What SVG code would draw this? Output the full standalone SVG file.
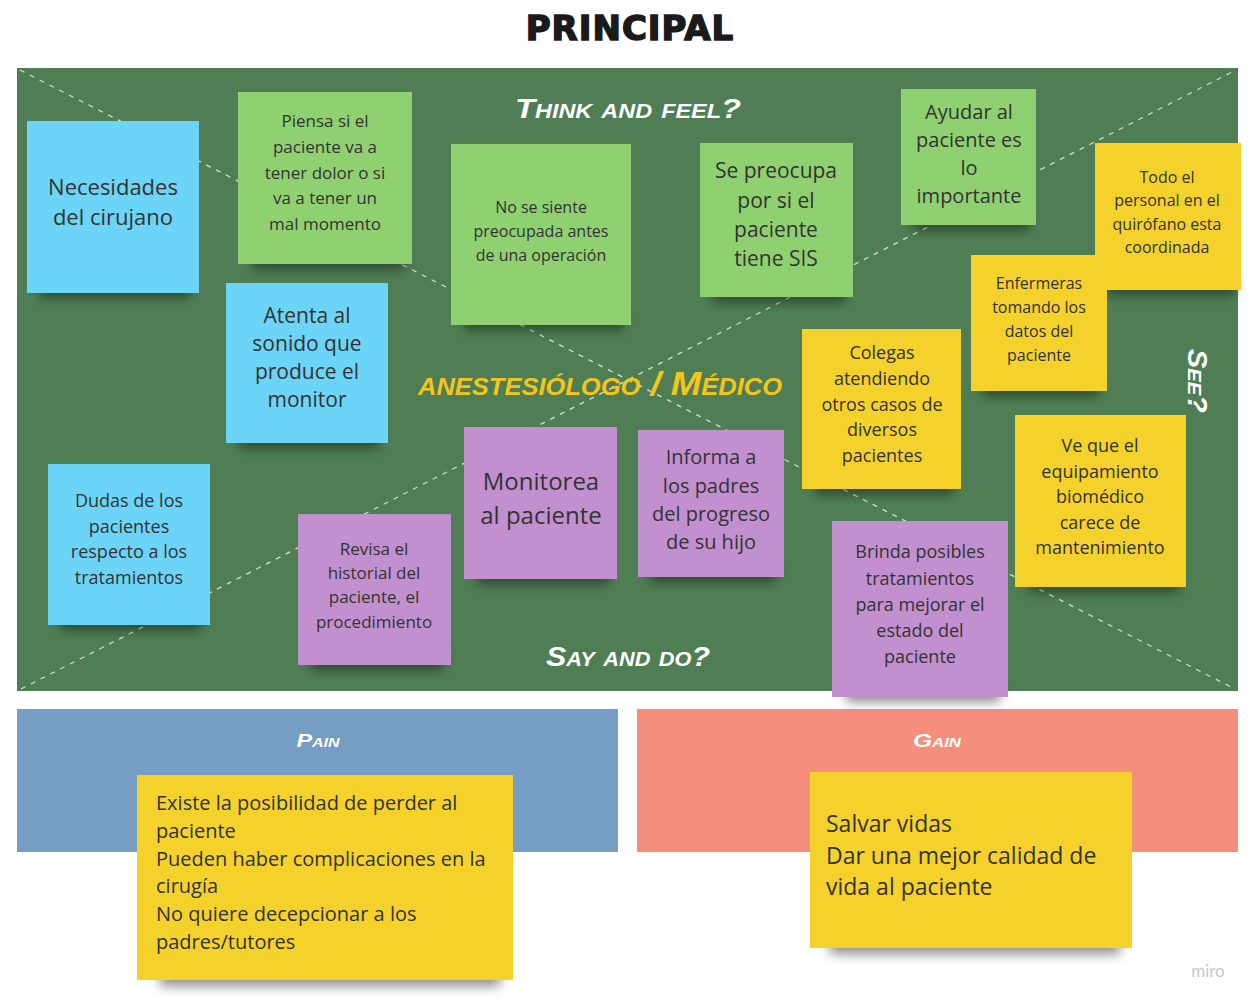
<svg xmlns="http://www.w3.org/2000/svg" width="1257" height="1006" viewBox="0 0 1257 1006">
  <style>
    .note text { font-family: "Open Sans", "Noto Sans", sans-serif; fill: #333; text-anchor: middle; }
    .left text { text-anchor: start; }
    .yellow { fill: #f5d12c; }
    .green { fill: #8fd170; }
    .blue { fill: #6cd4f7; }
    .purple { fill: #c290cf; }
    .sh { fill: #000; opacity: 0.45; filter: url(#soft); }
    .hand { font-family: "Liberation Sans", "DejaVu Sans", sans-serif; font-weight: bold; font-style: italic; font-variant: small-caps; fill: #fff; text-anchor: middle; }
    .diag { stroke: #e8efe6; stroke-width: 1.3; stroke-dasharray: 5 6; fill: none; opacity: 0.85; }
  </style>
  <defs>
    <filter id="soft" x="-20%" y="-100%" width="140%" height="300%">
      <feGaussianBlur stdDeviation="6"/>
    </filter>
  </defs>

  <rect width="1257" height="1006" fill="#fff"/>

  <!-- title -->
  <text x="630" y="40" font-family="DejaVu Sans, sans-serif" font-weight="bold" font-size="34" fill="#1a1a1a" stroke="#1a1a1a" stroke-width="1.5" text-anchor="middle" letter-spacing="1">PRINCIPAL</text>

  <!-- empathy board -->
  <rect x="17" y="68" width="1221" height="623" fill="#4f7e54"/>
  <g id="connectors">
    <line class="diag" x1="20" y1="70" x2="1235" y2="689"/>
    <line class="diag" x1="21" y1="689" x2="1236" y2="70"/>
  </g>

  <text class="hand" x="628" y="118" font-size="28" textLength="226" lengthAdjust="spacingAndGlyphs">Think and feel?</text>
  <text class="hand" x="628" y="666" font-size="28" textLength="164" lengthAdjust="spacingAndGlyphs">Say and do?</text>
  <text class="hand" transform="translate(1188,381) rotate(90)" font-size="27" textLength="64" lengthAdjust="spacingAndGlyphs">See?</text>
  <text class="hand" x="600" y="395" font-size="33" textLength="364" lengthAdjust="spacingAndGlyphs" style="fill:#f5c51c">anestesiólogo / Médico</text>

  <!-- pain / gain bands -->
  <rect x="17" y="709" width="601" height="143" fill="#769dc3"/>
  <rect x="637" y="709" width="601" height="143" fill="#f68e7c"/>
  <text class="hand" x="318" y="747" font-size="19" textLength="43" lengthAdjust="spacingAndGlyphs">Pain</text>
  <text class="hand" x="937" y="747" font-size="19" textLength="48" lengthAdjust="spacingAndGlyphs">Gain</text>

  <g id="n1" class="note">
    <rect class="sh" x="40" y="278" width="150" height="20"/>
    <rect class="blue" x="27" y="121" width="172" height="172"/>
    <text font-size="22"><tspan x="113" y="195">Necesidades</tspan><tspan x="113" y="225">del cirujano</tspan></text>
  </g>

  <g id="n2" class="note">
    <rect class="sh" x="252" y="249" width="152" height="20"/>
    <rect class="green" x="238" y="92" width="174" height="172"/>
    <text font-size="17"><tspan x="325" y="127">Piensa si el</tspan><tspan x="325" y="153">paciente va a</tspan><tspan x="325" y="179">tener dolor o si</tspan><tspan x="325" y="204">va a tener un</tspan><tspan x="325" y="230">mal momento</tspan></text>
  </g>

  <g id="n3" class="note">
    <rect class="sh" x="465" y="310" width="158" height="20"/>
    <rect class="green" x="451" y="144" width="180" height="181"/>
    <text font-size="16"><tspan x="541" y="213">No se siente</tspan><tspan x="541" y="237">preocupada antes</tspan><tspan x="541" y="261">de una operación</tspan></text>
  </g>

  <g id="n4" class="note">
    <rect class="sh" x="713" y="282" width="132" height="20"/>
    <rect class="green" x="700" y="143" width="153" height="154"/>
    <text font-size="21"><tspan x="776" y="178">Se preocupa</tspan><tspan x="776" y="208">por si el</tspan><tspan x="776" y="237">paciente</tspan><tspan x="776" y="266">tiene SIS</tspan></text>
  </g>

  <g id="n5" class="note">
    <rect class="sh" x="913" y="210" width="116" height="20"/>
    <rect class="green" x="901" y="89" width="135" height="136"/>
    <text font-size="20"><tspan x="969" y="119">Ayudar al</tspan><tspan x="969" y="147">paciente es</tspan><tspan x="969" y="175">lo</tspan><tspan x="969" y="203">importante</tspan></text>
  </g>

  <g id="n6" class="note">
    <rect class="sh" x="1107" y="275" width="128" height="20"/>
    <rect class="yellow" x="1095" y="143" width="146" height="147"/>
    <text font-size="16"><tspan x="1167" y="183">Todo el</tspan><tspan x="1167" y="206">personal en el</tspan><tspan x="1167" y="230">quirófano esta</tspan><tspan x="1167" y="253">coordinada</tspan></text>
  </g>

  <g id="n7" class="note">
    <rect class="sh" x="983" y="376" width="116" height="20"/>
    <rect class="yellow" x="971" y="255" width="136" height="136"/>
    <text font-size="16"><tspan x="1039" y="289">Enfermeras</tspan><tspan x="1039" y="313">tomando los</tspan><tspan x="1039" y="337">datos del</tspan><tspan x="1039" y="361">paciente</tspan></text>
  </g>

  <g id="n8" class="note">
    <rect class="sh" x="239" y="428" width="140" height="20"/>
    <rect class="blue" x="226" y="283" width="162" height="160"/>
    <text font-size="21"><tspan x="307" y="323">Atenta al</tspan><tspan x="307" y="351">sonido que</tspan><tspan x="307" y="379">produce el</tspan><tspan x="307" y="407">monitor</tspan></text>
  </g>

  <g id="n9" class="note">
    <rect class="sh" x="815" y="474" width="138" height="20"/>
    <rect class="yellow" x="802" y="329" width="159" height="160"/>
    <text font-size="18"><tspan x="882" y="359">Colegas</tspan><tspan x="882" y="385">atendiendo</tspan><tspan x="882" y="411">otros casos de</tspan><tspan x="882" y="436">diversos</tspan><tspan x="882" y="462">pacientes</tspan></text>
  </g>

  <g id="n10" class="note">
    <rect class="sh" x="1029" y="572" width="150" height="20"/>
    <rect class="yellow" x="1015" y="415" width="171" height="172"/>
    <text font-size="18"><tspan x="1100" y="452">Ve que el</tspan><tspan x="1100" y="478">equipamiento</tspan><tspan x="1100" y="503">biomédico</tspan><tspan x="1100" y="529">carece de</tspan><tspan x="1100" y="554">mantenimiento</tspan></text>
  </g>

  <g id="n11" class="note">
    <rect class="sh" x="477" y="564" width="132" height="20"/>
    <rect class="purple" x="464" y="427" width="153" height="152"/>
    <text font-size="24"><tspan x="541" y="490">Monitorea</tspan><tspan x="541" y="524">al paciente</tspan></text>
  </g>

  <g id="n12" class="note">
    <rect class="sh" x="650" y="562" width="126" height="20"/>
    <rect class="purple" x="638" y="430" width="146" height="147"/>
    <text font-size="20"><tspan x="711" y="464">Informa a</tspan><tspan x="711" y="493">los padres</tspan><tspan x="711" y="521">del progreso</tspan><tspan x="711" y="549">de su hijo</tspan></text>
  </g>

  <g id="n13" class="note">
    <rect class="sh" x="61" y="610" width="140" height="20"/>
    <rect class="blue" x="48" y="464" width="162" height="161"/>
    <text font-size="18"><tspan x="129" y="507">Dudas de los</tspan><tspan x="129" y="533">pacientes</tspan><tspan x="129" y="558">respecto a los</tspan><tspan x="129" y="584">tratamientos</tspan></text>
  </g>

  <g id="n14" class="note">
    <rect class="sh" x="311" y="650" width="132" height="20"/>
    <rect class="purple" x="298" y="514" width="153" height="151"/>
    <text font-size="17"><tspan x="374" y="555">Revisa el</tspan><tspan x="374" y="579">historial del</tspan><tspan x="374" y="603">paciente, el</tspan><tspan x="374" y="628">procedimiento</tspan></text>
  </g>

  <g id="n15" class="note">
    <rect class="sh" x="846" y="682" width="154" height="20"/>
    <rect class="purple" x="832" y="521" width="176" height="176"/>
    <text font-size="18"><tspan x="920" y="558">Brinda posibles</tspan><tspan x="920" y="585">tratamientos</tspan><tspan x="920" y="611">para mejorar el</tspan><tspan x="920" y="637">estado del</tspan><tspan x="920" y="663">paciente</tspan></text>
  </g>

  <g id="n16" class="note left">
    <rect class="sh" x="160" y="962" width="340" height="24"/>
    <rect class="yellow" x="137" y="775" width="376" height="205"/>
    <text font-size="20"><tspan x="156" y="810">Existe la posibilidad de perder al</tspan><tspan x="156" y="838">paciente</tspan><tspan x="156" y="866">Pueden haber complicaciones en la</tspan><tspan x="156" y="893">cirugía</tspan><tspan x="156" y="921">No quiere decepcionar a los</tspan><tspan x="156" y="949">padres/tutores</tspan></text>
  </g>

  <g id="n17" class="note left">
    <rect class="sh" x="830" y="930" width="290" height="24"/>
    <rect class="yellow" x="810" y="772" width="322" height="176"/>
    <text font-size="23"><tspan x="826" y="832">Salvar vidas</tspan><tspan x="826" y="864">Dar una mejor calidad de</tspan><tspan x="826" y="895">vida al paciente</tspan></text>
  </g>

  <text x="1208" y="977" font-family="Lato, sans-serif" font-size="17" fill="#c6c6ce" text-anchor="middle">miro</text>
</svg>
